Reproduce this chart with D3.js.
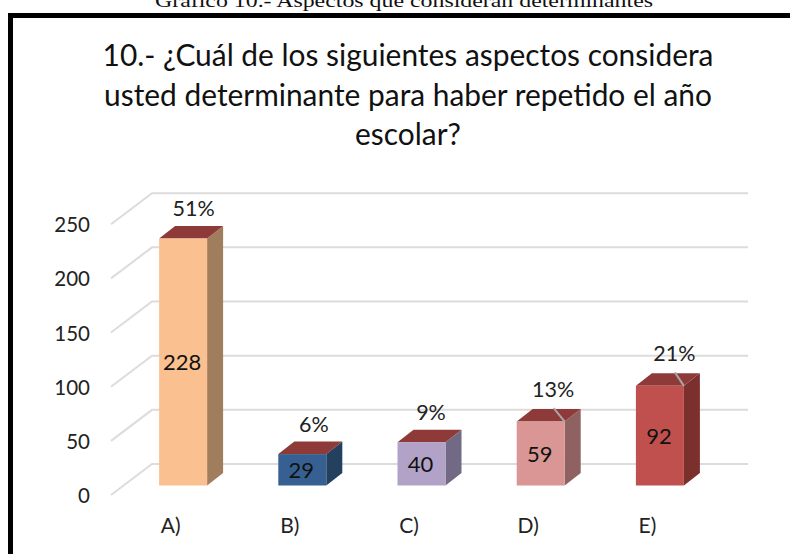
<!DOCTYPE html>
<html><head><meta charset="utf-8">
<script src="https://cdn.jsdelivr.net/npm/d3@7/dist/d3.min.js"></script>
<style>html,body{margin:0;padding:0;background:#fff}svg{display:block}</style>
</head><body><svg id="c" width="790" height="554"></svg>
<script>
const caption = "Gráfico 10.- Aspectos que consideran determinantes";
const titleLines = ["10.- ¿Cuál de los siguientes aspectos considera","usted determinante para haber repetido el año","escolar?"];
const categories = ["A)","B)","C)","D)","E)"];
const values = [228,29,40,59,92];
const percents = ["51%","6%","9%","13%","21%"];
const frontColors = ["#fac090","#376092","#b3a2c7","#d99694","#c0504d"];
const sideColors = ["#a07d5c","#23405f","#726a85","#8f6160","#7c302e"];
const topColor = "#8e3a38";
const yTicks = [0,50,100,150,200,250];
const pctDx = [11,12,10,13,15];
const pctGap = [17.5,17.5,17.5,19.5,20];
const hasLeader = [false,false,false,true,true];

const svg = d3.select("#c");
const font = "Lato, sans-serif", ink = "#222";

// page caption and frame
svg.append("text").attr("x",404).attr("y",7).attr("text-anchor","middle")
  .attr("font-family","'Liberation Serif', serif").attr("font-size",18).attr("textLength",498).attr("lengthAdjust","spacingAndGlyphs")
  .attr("fill","#111").text(caption);
svg.append("path").attr("d","M10.5 554V15.5H790").attr("fill","none").attr("stroke","#000").attr("stroke-width",5);

// title
svg.append("g").selectAll("text").data(titleLines).join("text")
  .attr("x",408).attr("y",(d,i)=>66+i*39.5).attr("text-anchor","middle")
  .attr("font-family",font).attr("font-size",29.9).attr("fill","#111").text(d=>d);

// scales (back wall of the 3D box)
const x = d3.scaleBand().domain(categories).range([152,748]);
const y = d3.scaleLinear().domain([0,250]).range([464,193.2]);
const wallDx = 41, wallDy = 31;      // floor depth
const barDx = 16, barDy = 12.5;      // bar depth
const barW = 48, barShift = -28.5, baseDrop = 21.5;

// gridlines
svg.append("g").selectAll("path").data(yTicks).join("path")
  .attr("d",v=>`M${x.range()[0]-wallDx} ${y(v)+wallDy}L${x.range()[0]} ${y(v)}H${x.range()[1]}`)
  .attr("fill","none").attr("stroke","#dcdcdc").attr("stroke-width",2);

// axes
const yAxis = d3.axisLeft(y).tickValues(yTicks).tickSize(0).tickPadding(0);
const gy = svg.append("g").attr("transform",`translate(90,${wallDy+1})`).call(yAxis);
gy.select(".domain").remove();
gy.selectAll("text").attr("font-family",font).attr("font-size",20.5).attr("fill",ink);

const xAxis = d3.axisBottom(x).tickSize(0).tickPadding(0);
const gx = svg.append("g").attr("transform",`translate(${-wallDx},518)`).call(xAxis);
gx.select(".domain").remove();
gx.selectAll("text").attr("font-family",font).attr("font-size",21).attr("fill",ink);

// bars
const rows = categories.map((c,i)=>{
  const x0 = x(c)+x.bandwidth()/2+barShift-barW/2, base = y(0)+baseDrop, top = y(values[i])+baseDrop;
  return {i,c,v:values[i],x0,x1:x0+barW,base,top};
});
const bars = svg.append("g").selectAll("g").data(rows).join("g");
bars.append("path").attr("fill",d=>sideColors[d.i])
  .attr("d",d=>`M${d.x1} ${d.top}l${barDx} ${-barDy}V${d.base-barDy}L${d.x1} ${d.base}Z`);
bars.append("path").attr("fill",topColor)
  .attr("d",d=>`M${d.x0} ${d.top}l${barDx} ${-barDy}H${d.x1+barDx}L${d.x1} ${d.top}Z`);
bars.append("rect").attr("fill",d=>frontColors[d.i])
  .attr("x",d=>d.x0).attr("y",d=>d.top).attr("width",barW).attr("height",d=>d.base-d.top);
// leader lines
bars.filter(d=>hasLeader[d.i]).append("line")
  .attr("x1",d=>(d.x0+d.x1)/2+pctDx[d.i]).attr("y1",d=>d.top-barDy-1)
  .attr("x2",d=>d.x1).attr("y2",d=>d.top)
  .attr("stroke","#a6a6a6").attr("stroke-width",2);
// value labels
bars.append("text").attr("x",d=>(d.x0+d.x1)/2-1).attr("y",d=>(d.top+d.base)/2+0.5)
  .attr("dy","0.35em").attr("text-anchor","middle")
  .attr("font-family",font).attr("font-size",22).attr("fill","#111").text(d=>d.v);
// percent labels
bars.append("text").attr("x",d=>(d.x0+d.x1)/2+pctDx[d.i]-0.5).attr("y",d=>d.top-barDy-pctGap[d.i])
  .attr("dy","0.35em").attr("text-anchor","middle")
  .attr("font-family",font).attr("font-size",21.5).attr("fill",ink).text(d=>percents[d.i]);
</script></body></html>
